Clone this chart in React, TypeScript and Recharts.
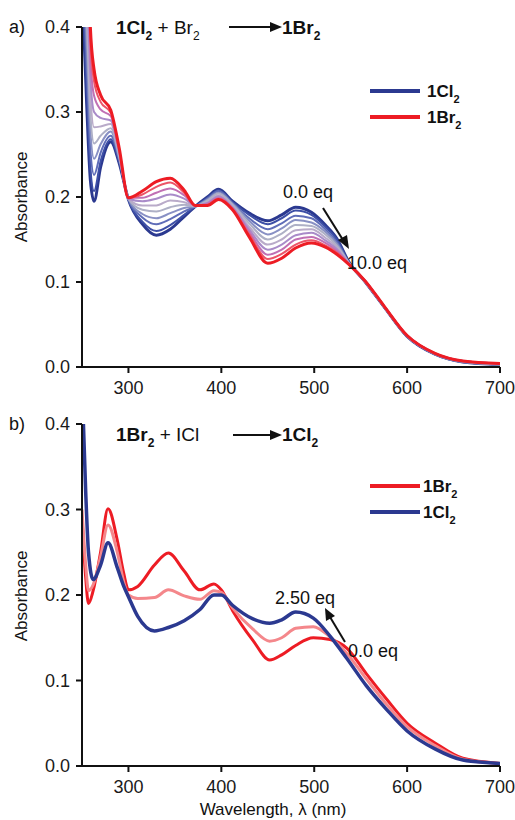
import { LineChart, Line, XAxis, YAxis } from "recharts";

const FONT = '"Liberation Sans", Arial, sans-serif';

// ---- panel a) 1Cl2 + Br2 titration, 0.0 -> 10.0 eq ----
const topWavelengths = [250, 255, 259, 263, 270, 281, 290, 300, 315, 330, 345, 360, 372, 385, 397, 412, 430, 450, 465, 480, 497, 512, 525, 537, 555, 575, 600, 630, 660, 700];

const top1Cl2 = [0.45, 0.31, 0.22, 0.195, 0.235, 0.265, 0.24, 0.197, 0.168, 0.155, 0.162, 0.177, 0.189, 0.2, 0.209, 0.195, 0.181, 0.172, 0.179, 0.188, 0.182, 0.167, 0.15, 0.124, 0.1, 0.071, 0.036, 0.015, 0.006, 0.003];
const topStep1 = [0.47, 0.329, 0.234, 0.207, 0.242, 0.268, 0.241, 0.197, 0.171, 0.16, 0.167, 0.179, 0.189, 0.199, 0.208, 0.194, 0.179, 0.168, 0.175, 0.184, 0.179, 0.165, 0.149, 0.124, 0.1, 0.071, 0.036, 0.015, 0.006, 0.003];
const topStep2 = [0.5, 0.358, 0.256, 0.226, 0.252, 0.272, 0.244, 0.197, 0.176, 0.168, 0.174, 0.183, 0.189, 0.198, 0.207, 0.193, 0.175, 0.162, 0.169, 0.178, 0.175, 0.162, 0.146, 0.123, 0.1, 0.071, 0.036, 0.015, 0.006, 0.003];
const topStep3 = [0.53, 0.387, 0.278, 0.245, 0.262, 0.277, 0.246, 0.198, 0.18, 0.175, 0.181, 0.187, 0.189, 0.197, 0.205, 0.192, 0.172, 0.156, 0.163, 0.173, 0.17, 0.159, 0.144, 0.123, 0.1, 0.071, 0.036, 0.015, 0.006, 0.003];
const topStep4 = [0.56, 0.416, 0.299, 0.263, 0.272, 0.281, 0.248, 0.198, 0.185, 0.183, 0.188, 0.191, 0.189, 0.196, 0.204, 0.191, 0.169, 0.15, 0.157, 0.167, 0.166, 0.156, 0.142, 0.123, 0.1, 0.071, 0.036, 0.016, 0.007, 0.003];
const topStep5 = [0.59, 0.444, 0.321, 0.282, 0.283, 0.286, 0.25, 0.198, 0.19, 0.19, 0.196, 0.194, 0.189, 0.194, 0.202, 0.189, 0.165, 0.144, 0.15, 0.161, 0.162, 0.152, 0.14, 0.122, 0.101, 0.072, 0.037, 0.016, 0.007, 0.004];
const topStep6 = [0.62, 0.473, 0.342, 0.3, 0.293, 0.29, 0.252, 0.198, 0.195, 0.198, 0.203, 0.198, 0.19, 0.193, 0.201, 0.188, 0.162, 0.138, 0.144, 0.155, 0.158, 0.149, 0.138, 0.122, 0.101, 0.072, 0.037, 0.016, 0.007, 0.004];
const topStep7 = [0.65, 0.502, 0.364, 0.319, 0.303, 0.295, 0.254, 0.199, 0.199, 0.205, 0.21, 0.202, 0.19, 0.192, 0.199, 0.187, 0.159, 0.132, 0.138, 0.15, 0.153, 0.146, 0.136, 0.122, 0.101, 0.072, 0.037, 0.016, 0.007, 0.004];
const topStep8 = [0.68, 0.528, 0.384, 0.336, 0.312, 0.299, 0.256, 0.199, 0.203, 0.212, 0.217, 0.205, 0.19, 0.191, 0.198, 0.186, 0.156, 0.127, 0.133, 0.144, 0.149, 0.143, 0.134, 0.121, 0.101, 0.072, 0.037, 0.016, 0.007, 0.004];
const top1Br2 = [0.7, 0.55, 0.4, 0.35, 0.32, 0.302, 0.258, 0.199, 0.207, 0.218, 0.222, 0.208, 0.19, 0.19, 0.197, 0.185, 0.153, 0.122, 0.128, 0.14, 0.146, 0.141, 0.132, 0.121, 0.101, 0.072, 0.037, 0.016, 0.007, 0.004];

const topSeries = [top1Cl2, topStep1, topStep2, topStep3, topStep4, topStep5, topStep6, topStep7, topStep8, top1Br2];
const topColors = ["#2b3990", "#3d4fa6", "#5f6db8", "#8890c4", "#aeb0c6", "#b9abc9", "#a98bc9", "#c070b4", "#ec5468", "#ed1c24"];

// ---- panel b) 1Br2 + ICl titration, 0.0 -> 2.50 eq ----
const bottomWavelengths = [250, 254, 257, 262, 270, 278, 288, 295, 300, 310, 328, 343, 360, 377, 392, 400, 412, 434, 452, 465, 480, 499, 517, 535, 556, 578, 600, 630, 660, 700];

const bottom1Br2 = [0.29, 0.22, 0.19, 0.205, 0.25, 0.301, 0.264, 0.225, 0.206, 0.21, 0.235, 0.249, 0.228, 0.206, 0.213, 0.206, 0.182, 0.147, 0.124, 0.13, 0.141, 0.15, 0.148, 0.138, 0.108, 0.078, 0.05, 0.027, 0.009, 0.003];
const bottomMid = [0.3, 0.235, 0.205, 0.212, 0.245, 0.282, 0.25, 0.215, 0.2, 0.196, 0.197, 0.206, 0.199, 0.195, 0.205, 0.203, 0.185, 0.16, 0.146, 0.15, 0.161, 0.163, 0.151, 0.132, 0.102, 0.072, 0.046, 0.024, 0.008, 0.003];
const bottom1Cl2 = [0.45, 0.32, 0.25, 0.218, 0.235, 0.261, 0.232, 0.21, 0.198, 0.175, 0.158, 0.162, 0.17, 0.183, 0.2, 0.2, 0.188, 0.172, 0.167, 0.171, 0.18, 0.173, 0.152, 0.126, 0.094, 0.066, 0.041, 0.02, 0.007, 0.003];

const xTicks = [300, 400, 500, 600, 700];
const yTicks = [0, 0.1, 0.2, 0.3, 0.4];

const topRows = topWavelengths.map((wl, i) => {
  const row: Record<string, number> = { wl };
  topSeries.forEach((s, k) => (row["c" + k] = s[i]));
  return row;
});

const bottomRows = bottomWavelengths.map((wl, i) => ({
  wl,
  br: bottom1Br2[i],
  mid: bottomMid[i],
  cl: bottom1Cl2[i],
}));

const axisStyle = { stroke: "#111", strokeWidth: 2 };
const tickStyle = { fill: "#1a1a1a", fontSize: 18, fontFamily: FONT };

// formula text like 1Cl₂ with a real lowered subscript
function Formula({ x, y, size, parts }: { x: number; y: number; size: number; parts: [string, string, boolean][] }) {
  const sub = Math.round(size * 0.62);
  const drop = Math.round(size * 0.33);
  let low = false;
  return (
    <text x={x} y={y} fontSize={size}>
      {parts.map(([main, subText, bold], i) => {
        const dyMain = low ? -drop : 0;
        low = subText !== "";
        return [
          <tspan key={i + "m"} dy={dyMain} fontWeight={bold ? 700 : 400}>{main}</tspan>,
          subText ? (
            <tspan key={i + "s"} dy={drop} fontSize={sub} fontWeight={bold ? 700 : 400}>{subText}</tspan>
          ) : null,
        ];
      })}
    </text>
  );
}

function Overlay() {
  return (
    <svg
      width={515}
      height={820}
      style={{ position: "absolute", left: 0, top: 0, pointerEvents: "none" }}
      fontFamily={FONT}
      fill="#111"
    >
      {/* panel labels */}
      <text x={9} y={33} fontSize={18}>a)</text>
      <text x={9} y={430} fontSize={18}>b)</text>

      {/* titles */}
      <Formula x={116} y={34} size={19} parts={[["1Cl", "2", true], [" + Br", "2", false]]} />
      <line x1={229} y1={27} x2={272} y2={27} stroke="#111" strokeWidth={2} />
      <polygon points="282,27 270,22 270,32" />
      <Formula x={282} y={34} size={19} parts={[["1Br", "2", true]]} />

      <Formula x={116} y={441} size={19} parts={[["1Br", "2", true], [" + ICl", "", false]]} />
      <line x1={233} y1={435} x2={272} y2={435} stroke="#111" strokeWidth={2} />
      <polygon points="282,435 270,430 270,440" />
      <Formula x={282} y={441} size={19} parts={[["1Cl", "2", true]]} />

      {/* legends */}
      <line x1={370} y1={91} x2={420} y2={91} stroke="#2b3990" strokeWidth={4} />
      <line x1={370} y1={117} x2={420} y2={117} stroke="#ed1c24" strokeWidth={4} />
      <Formula x={427} y={97} size={17} parts={[["1Cl", "2", true]]} />
      <Formula x={427} y={123} size={17} parts={[["1Br", "2", true]]} />

      <line x1={370} y1={486} x2={420} y2={486} stroke="#ed1c24" strokeWidth={4} />
      <line x1={370} y1={512} x2={420} y2={512} stroke="#2b3990" strokeWidth={4} />
      <Formula x={423} y={492} size={17} parts={[["1Br", "2", true]]} />
      <Formula x={423} y={518} size={17} parts={[["1Cl", "2", true]]} />

      {/* annotations */}
      <text x={283} y={198} fontSize={18}>0.0 eq</text>
      <line x1={323} y1={208} x2={343} y2={240} stroke="#111" strokeWidth={2} />
      <polygon points="349,249 338,240 347,235" />
      <text x={347} y={269} fontSize={18}>10.0 eq</text>

      <text x={275} y={604} fontSize={18}>2.50 eq</text>
      <line x1={345} y1={642} x2={330} y2={617} stroke="#111" strokeWidth={2} />
      <polygon points="325,608 335,616 326,621" />
      <text x={348} y={657} fontSize={18}>0.0 eq</text>

      {/* axis titles */}
      <text transform="translate(27,197) rotate(-90)" textAnchor="middle" fontSize={17}>Absorbance</text>
      <text transform="translate(27,596) rotate(-90)" textAnchor="middle" fontSize={17}>Absorbance</text>
      <text x={273} y={815} textAnchor="middle" fontSize={17}>Wavelength, λ (nm)</text>
    </svg>
  );
}

export default function App() {
  return (
    <div style={{ position: "absolute", left: 0, top: 0, width: 515, height: 820, background: "#fff" }}>
      <div style={{ position: "absolute", left: 0, top: 0 }}>
        <LineChart width={515} height={400} data={topRows} margin={{ top: 27, right: 15, left: 32, bottom: 3 }}>
          <XAxis
            dataKey="wl"
            type="number"
            domain={[250, 700]}
            ticks={xTicks}
            allowDataOverflow
            height={30}
            axisLine={axisStyle}
            tickLine={axisStyle}
            tickSize={6}
            tickMargin={8}
            tick={tickStyle}
          />
          <YAxis
            type="number"
            domain={[0, 0.4]}
            ticks={yTicks}
            allowDataOverflow
            width={50}
            axisLine={axisStyle}
            tickLine={axisStyle}
            tickSize={6}
            tickMargin={6}
            tick={tickStyle}
            tickFormatter={(v: number) => v.toFixed(1)}
          />
          {topColors.map((c, k) => (
            <Line
              key={k}
              type="monotone"
              dataKey={"c" + k}
              stroke={c}
              strokeWidth={k === 0 || k === topColors.length - 1 ? 3 : 2}
              dot={false}
              isAnimationActive={false}
            />
          ))}
        </LineChart>
      </div>
      <div style={{ position: "absolute", left: 0, top: 400 }}>
        <LineChart width={515} height={420} data={bottomRows} margin={{ top: 24, right: 15, left: 32, bottom: 24 }}>
          <XAxis
            dataKey="wl"
            type="number"
            domain={[250, 700]}
            ticks={xTicks}
            allowDataOverflow
            height={30}
            axisLine={axisStyle}
            tickLine={axisStyle}
            tickSize={6}
            tickMargin={8}
            tick={tickStyle}
          />
          <YAxis
            type="number"
            domain={[0, 0.4]}
            ticks={yTicks}
            allowDataOverflow
            width={50}
            axisLine={axisStyle}
            tickLine={axisStyle}
            tickSize={6}
            tickMargin={6}
            tick={tickStyle}
            tickFormatter={(v: number) => v.toFixed(1)}
          />
          <Line type="monotone" dataKey="br" stroke="#ed1c24" strokeWidth={3} dot={false} isAnimationActive={false} />
          <Line type="monotone" dataKey="mid" stroke="#f4878b" strokeWidth={3} dot={false} isAnimationActive={false} />
          <Line type="monotone" dataKey="cl" stroke="#2b3990" strokeWidth={3.5} dot={false} isAnimationActive={false} />
        </LineChart>
      </div>
      <Overlay />
    </div>
  );
}
